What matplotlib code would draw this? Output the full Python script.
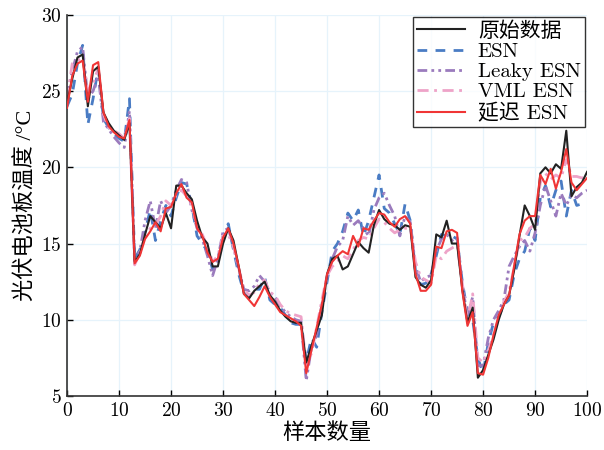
import numpy as np
import matplotlib.pyplot as plt

plt.rcParams['font.family'] = ['cmr10', 'Noto Sans CJK SC', 'DejaVu Serif']
plt.rcParams['axes.formatter.use_mathtext'] = True
plt.rcParams['mathtext.fontset'] = 'cm'

# 样本序号
n = np.arange(0, 101)

# 原始数据
y_true = [24.2, 25.8, 27.2, 27.4, 24.0, 26.3, 26.6, 23.6, 22.9, 22.4,
          22.1, 21.8, 22.9, 13.8, 14.3, 15.6, 16.8, 16.4, 16.0, 17.0,
          16.0, 18.8, 18.8, 18.3, 17.9, 16.5, 15.4, 15.0, 13.5, 13.5,
          15.0, 16.0, 15.2, 13.5, 11.7, 11.4, 11.9, 12.2, 12.5, 11.6,
          11.2, 10.6, 10.2, 9.9, 9.8, 9.8, 7.2, 8.3, 9.3, 10.3,
          13.0, 14.0, 14.2, 13.3, 13.5, 14.3, 15.1, 14.7, 14.4, 16.2,
          17.2, 16.6, 16.3, 16.2, 15.9, 16.2, 16.1, 12.8, 12.3, 12.1,
          12.6, 15.6, 15.4, 16.5, 15.0, 15.0, 12.0, 9.8, 10.8, 6.2,
          6.7, 7.7, 8.7, 10.0, 11.0, 11.6, 13.3, 15.5, 17.5, 16.8,
          15.9, 19.6, 20.0, 19.6, 20.2, 19.9, 22.4, 18.1, 18.7, 19.0,
          19.7]

# ESN
y_esn = [24.0, 24.8, 26.8, 28.0, 22.8, 24.5, 26.5, 23.2, 22.6, 22.2,
         21.9, 21.7, 24.5, 14.0, 14.6, 15.8, 17.2, 15.2, 16.5, 17.5,
         16.8, 18.0, 19.0, 18.9, 17.5, 15.5, 15.0, 14.5, 13.3, 13.8,
         15.5, 16.3, 14.6, 13.0, 11.8, 11.5, 12.0, 12.0, 12.8, 11.3,
         11.0, 10.8, 10.3, 9.8, 9.7, 9.7, 7.3, 8.8, 8.2, 10.5,
         12.5, 14.5, 15.0, 15.8, 17.0, 16.5, 17.2, 15.5, 16.5, 18.0,
         19.5, 17.3, 17.0, 16.3, 15.6, 17.6, 16.5, 13.2, 12.3, 12.4,
         13.0, 14.2, 15.6, 15.5, 15.5, 15.3, 12.5, 10.5, 10.0, 7.5,
         6.5, 8.5, 9.8, 10.2, 11.0, 11.3, 13.0, 14.0, 14.5, 16.0,
         15.2, 18.0, 18.8, 17.4, 18.5, 19.1, 16.8, 18.5, 17.5, 17.6,
         17.7]

# Leaky ESN
y_leaky = [24.7, 26.3, 27.6, 27.9, 24.5, 25.0, 26.0, 23.0, 22.5, 22.0,
           21.6, 21.3, 23.7, 13.9, 14.5, 16.5, 17.8, 16.0, 17.8, 17.0,
           17.5, 18.5, 19.2, 19.0, 17.2, 16.0, 15.3, 14.2, 12.9, 14.0,
           15.8, 16.0, 14.8, 13.3, 12.0, 11.9, 12.2, 12.9, 12.5, 11.8,
           11.5, 10.9, 10.5, 10.2, 10.0, 9.9, 6.0, 8.2, 9.0, 11.0,
           12.8, 14.0, 14.8, 15.2, 16.8, 16.2, 16.5, 16.0, 15.5, 17.2,
           18.0, 18.3, 17.5, 16.8, 15.5, 16.8, 16.4, 13.5, 12.5, 12.8,
           12.9, 14.5, 15.3, 15.6, 15.2, 15.4, 12.3, 10.2, 11.5, 7.0,
           7.0, 8.8, 10.0, 10.6, 11.3, 13.5, 14.2, 14.8, 15.2, 14.5,
           15.7, 17.5, 18.8, 17.8, 16.8, 18.3, 17.5, 18.2, 18.0, 18.3,
           18.5]

# VML ESN
y_vml = [24.5, 26.8, 27.0, 27.2, 25.0, 25.5, 26.5, 23.5, 22.6, 22.4,
         22.2, 21.9, 23.2, 13.6, 14.4, 15.5, 16.0, 16.2, 16.8, 17.8,
         17.5, 18.2, 18.5, 18.1, 17.5, 16.2, 15.6, 14.8, 13.8, 14.2,
         15.5, 15.6, 14.8, 13.4, 12.0, 11.6, 11.8, 12.4, 12.6, 11.8,
         11.6, 11.0, 10.6, 10.4, 10.3, 10.2, 7.0, 7.8, 9.5, 11.3,
         12.9, 13.5, 13.8, 14.2, 14.0, 14.6, 15.2, 15.4, 15.3, 16.0,
         16.6, 16.4, 16.0, 15.7, 15.9, 16.0, 16.0, 13.8, 12.8, 12.6,
         12.4, 14.2, 14.0, 14.5, 14.7, 14.9, 12.4, 10.0, 11.7, 7.5,
         7.2, 8.0, 9.0, 10.1, 11.2, 11.8, 13.5, 15.2, 15.4, 16.0,
         16.3, 19.0, 19.6, 19.2, 19.5, 19.3, 20.5, 19.4, 19.4, 19.3,
         19.4]

# 延迟 ESN
y_delay = [23.9, 26.0, 26.8, 27.0, 24.3, 26.7, 26.9, 23.6, 22.7, 22.3,
           22.0, 21.9, 23.1, 13.7, 14.2, 15.3, 15.8, 16.4, 15.8, 17.3,
           17.4, 18.3, 18.9, 18.0, 17.7, 16.0, 15.5, 14.4, 13.8, 14.0,
           15.4, 16.0, 15.0, 13.5, 11.7, 11.3, 10.9, 11.5, 12.2, 11.5,
           11.0, 10.5, 10.3, 10.1, 9.9, 9.6, 6.5, 8.0, 9.5, 11.0,
           13.0, 13.8, 14.2, 14.5, 14.3, 15.5, 14.8, 16.0, 15.9, 16.5,
           17.0, 16.9, 16.4, 16.1, 16.6, 16.8, 16.3, 13.0, 11.9, 11.9,
           12.3, 14.8, 14.7, 15.8, 15.9, 15.7, 11.9, 9.6, 10.5, 6.5,
           6.4, 7.5, 9.0, 10.3, 11.0, 11.6, 13.6, 15.6, 16.5, 16.8,
           16.8, 19.5, 18.9, 19.9, 18.6, 19.7, 21.2, 19.0, 18.5, 18.9,
           19.3]

fig = plt.figure(figsize=(6.04, 4.5), dpi=100)
ax = fig.add_axes([0.111, 0.12, 0.861, 0.847])

ax.plot(n, y_true, color='#222222', lw=1.5, label='原始数据', zorder=3)
ax.plot(n, y_esn, color='#4a7cc4', lw=2.0, ls=(0, (3.5, 3)), label='ESN', zorder=2)
ax.plot(n, y_leaky, color='#9b7bbd', lw=2.0, ls=(0, (3.5, 1.5, 1, 1.5, 1, 1.5)),
        label='Leaky ESN', zorder=2)
ax.plot(n, y_vml, color='#eea3c8', lw=2.0, ls=(0, (4, 2, 1, 2)), label='VML ESN', zorder=2)
ax.plot(n, y_delay, color='#f03535', lw=1.5, label='延迟 ESN', zorder=4)

ax.set_xlim(0, 100)
ax.set_ylim(5, 30)
ax.set_xticks(np.arange(0, 101, 10))
ax.set_yticks(np.arange(5, 31, 5))
ax.grid(True, color='#e6f3fb', lw=0.9)
ax.set_axisbelow(True)

for s in ['top', 'right']:
    ax.spines[s].set_visible(False)
for s in ['left', 'bottom']:
    ax.spines[s].set_linewidth(1.2)
    ax.spines[s].set_color('#333333')
ax.tick_params(direction='in', length=4, width=1, labelsize=14, pad=4)

ax.set_xlabel('样本数量', fontsize=16, labelpad=2)
# cmr10 没有 ° 字形，这里换成 Liberation Serif
ax.set_ylabel('光伏电池板温度 /°C', fontsize=16, labelpad=3,
              family=['Liberation Serif', 'Noto Sans CJK SC'])

leg = ax.legend(loc='upper right', bbox_to_anchor=(1.0, 1.0), fontsize=15,
                frameon=True, fancybox=False, edgecolor='black',
                borderpad=0.2, labelspacing=0.08, handlelength=2.3,
                handletextpad=0.6, borderaxespad=0.1)
leg.get_frame().set_linewidth(1.0)

fig.savefig('out.png', dpi=100)
